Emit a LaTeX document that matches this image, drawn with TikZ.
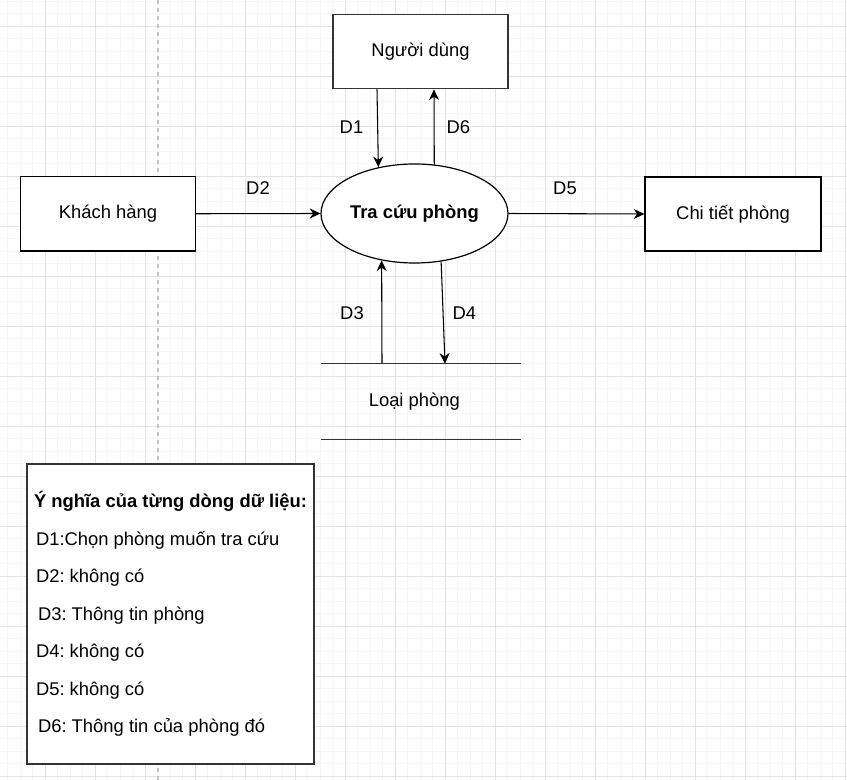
\documentclass[tikz,border=0pt]{standalone}
\usepackage{fontspec}
\setmainfont{Liberation Sans}
\frenchspacing
\usetikzlibrary{arrows.meta,positioning,calc,shapes.geometric}
\definecolor{GridMajor}{HTML}{E3E3E3}
\definecolor{GridMinor}{HTML}{F6F6F6}
\definecolor{GuideGray}{HTML}{C4C4C4}
\definecolor{EdgeDark}{HTML}{333333}

\begin{document}
\begin{tikzpicture}[x=0.75pt,y=-0.75pt,
    every node/.style={font=\fontsize{13.8}{16}\selectfont},
    entity/.style={draw=black,line width=0.9pt,fill=white,inner sep=0pt,
      minimum width=131.25pt,minimum height=55.9pt},
    process/.style={ellipse,draw=black,line width=0.9pt,fill=white,inner sep=0pt,
      minimum width=140.25pt,minimum height=74.25pt,
      font=\fontsize{13.8}{16}\selectfont\bfseries},
    store/.style={inner sep=0pt,minimum width=150pt,minimum height=56.25pt},
    legend/.style={draw=EdgeDark,line width=0.9pt,fill=white,align=left,
      inner sep=0pt,minimum width=215.25pt,minimum height=225pt,
      font=\fontsize{13.8}{28.1}\selectfont},
    flow/.style={draw=black,line width=0.8pt,-{Stealth[length=8pt,width=7.5pt]}},
    lbl/.style={inner sep=0pt}]
  \useasboundingbox[fill=white] (0,0) rectangle (847,780);

  % canvas grid
  \foreach \i in {0,...,67}
    \draw[GridMinor,line width=0.6pt] ({7.8+12.5*\i},0) -- ++(0,780);
  \foreach \i in {0,...,62}
    \draw[GridMinor,line width=0.6pt] (0,{1.3+12.5*\i}) -- ++(847,0);
  \foreach \i in {0,...,16}
    \draw[GridMajor,line width=0.6pt] ({45.3+50*\i},0) -- ++(0,780);
  \foreach \i in {0,...,15}
    \draw[GridMajor,line width=0.6pt] (0,{26.3+50*\i}) -- ++(847,0);
  \draw[GuideGray,line width=0.8pt,dash pattern=on 3pt off 3pt] (158,0) -- (158,780);

  % entities and process
  \node[entity] (khach) at (108,213.75) {Khách hàng};
  \node[entity,draw=EdgeDark] (user) at (420.5,51.5) {Người dùng};
  \node[entity,minimum width=132pt,minimum height=55.5pt] (chitiet) at (733,214) {Chi tiết phòng};
  \node[process] (tracuu) at (414.5,213.5) {Tra cứu phòng};

  % data store
  \node[store] (loai) at (421,401.5) {\hspace*{-10pt}Loại phòng};
  \draw[EdgeDark,line width=0.9pt] (loai.north west) -- (loai.north east)
    (loai.south west) -- (loai.south east);

  % data flows
  \draw[flow] ($(user.south)+(-43.5,0)$) -- (tracuu.128.7);
  \draw[flow] (tracuu.68) -- ($(user.south)+(13.5,0)$);
  \draw[flow] (khach.east) -- (tracuu.west);
  \draw[flow] (tracuu.east) -- (chitiet.west);
  \draw[flow] ($(loai.north)+(-39,0)$) -- (tracuu.235);
  \draw[flow] (tracuu.299.2) -- ($(loai.north)+(24,0)$);

  \node[lbl] (d1) at (351.5,127) {D1};
  \node[lbl] (d6) at (458.3,127) {D6};
  \node[lbl] (d2) at (258,188) {D2};
  \node[lbl] (d5) at (565,188) {D5};
  \node[lbl] (d3) at (352,313) {D3};
  \node[lbl] (d4) at (464.3,313) {D4};

  % legend
  \node[legend] (ynghia) at (170.5,614) {\textbf{Ý nghĩa của từng dòng dữ liệu:}\\
    \hspace*{1.5pt}D1:Chọn phòng muốn tra cứu\\
    \hspace*{1.5pt}D2: không có\\
    \hspace*{3pt}D3: Thông tin phòng\\
    \hspace*{1.5pt}D4: không có\\
    \hspace*{1.5pt}D5: không có\\
    \hspace*{3pt}D6: Thông tin của phòng đó};
\end{tikzpicture}
\end{document}
